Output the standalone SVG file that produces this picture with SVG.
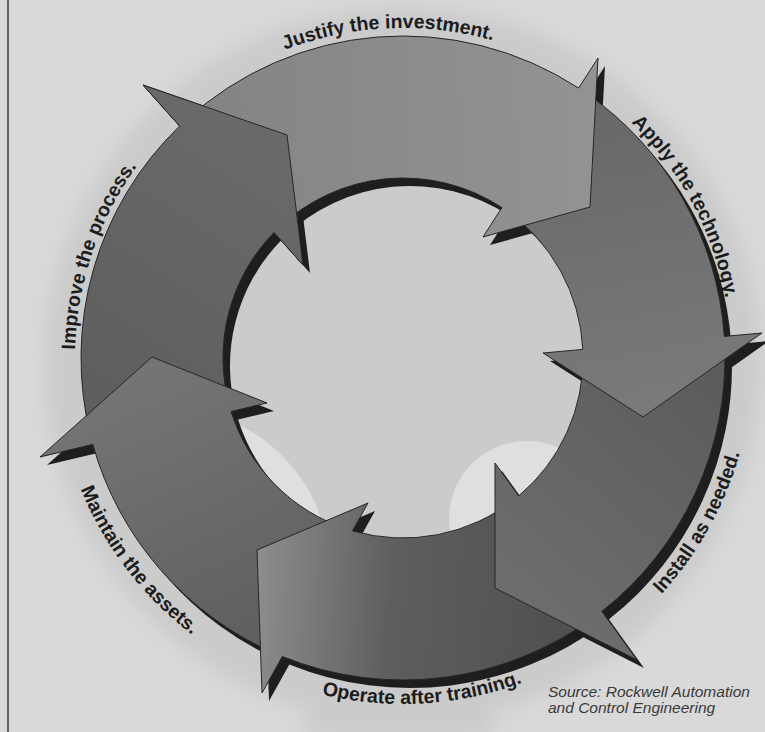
<svg xmlns="http://www.w3.org/2000/svg" width="765" height="732" viewBox="0 0 765 732">
<style>
.edge{stroke:#262626;stroke-width:1;stroke-linejoin:miter}
.shadow{fill:#1e1e1e}
.lbl{font-family:"Liberation Sans",Arial,sans-serif;font-weight:bold;font-size:19.5px;fill:#1c1c1c}
.src{font-family:"Liberation Sans",Arial,sans-serif;font-style:italic;font-size:15.5px;fill:#3a3a3a}
</style>
<defs>
<filter id="soft" x="-20%" y="-20%" width="140%" height="140%"><feGaussianBlur stdDeviation="10"/></filter>
<clipPath id="hole"><circle cx="403" cy="358" r="181"/></clipPath>
<linearGradient id="gJ" gradientUnits="userSpaceOnUse" x1="186" y1="160" x2="595" y2="150"><stop offset="0" stop-color="#838383"/><stop offset="1" stop-color="#939393"/></linearGradient>
<linearGradient id="gA" gradientUnits="userSpaceOnUse" x1="590" y1="100" x2="650" y2="410"><stop offset="0" stop-color="#676767"/><stop offset="1" stop-color="#7a7a7a"/></linearGradient>
<linearGradient id="gI" gradientUnits="userSpaceOnUse" x1="725" y1="345" x2="500" y2="600"><stop offset="0" stop-color="#5a5a5a"/><stop offset="1" stop-color="#6e6e6e"/></linearGradient>
<linearGradient id="gO" gradientUnits="userSpaceOnUse" x1="590" y1="620" x2="258" y2="600"><stop offset="0" stop-color="#4e4e4e"/><stop offset="0.6" stop-color="#5e5e5e"/><stop offset="1" stop-color="#8c8c8c"/></linearGradient>
<linearGradient id="gM" gradientUnits="userSpaceOnUse" x1="275" y1="650" x2="150" y2="380"><stop offset="0" stop-color="#5e5e5e"/><stop offset="1" stop-color="#747474"/></linearGradient>
<linearGradient id="gP" gradientUnits="userSpaceOnUse" x1="90" y1="436" x2="287" y2="135"><stop offset="0" stop-color="#5d5d5d"/><stop offset="1" stop-color="#6a6a6a"/></linearGradient>
<path id="pJ" d="M140.8,157.6 A330,330 0 0 1 645.9,134.6"/>
<path id="pA" d="M470.1,36.9 A328,328 0 0 1 707.5,479.8"/>
<path id="pP" d="M123.1,528.9 A328,328 0 0 1 283.3,52.6"/>
<path id="pI" d="M469.2,701.7 A350,350 0 0 0 730.0,233.1"/>
<path id="pO" d="M151.3,595.4 A346,346 0 0 0 680.4,564.8"/>
<path id="pM" d="M63.4,282.1 A348,348 0 0 0 387.2,705.6"/>
</defs>

<g id="background">
<rect x="0" y="0" width="765" height="732" fill="#d9d9d9"/>
<g filter="url(#soft)" fill="#cbcbcb">
<circle cx="403" cy="365" r="358"/>
<polygon points="318,660 488,660 494,740 303,740"/>
</g>
<g clip-path="url(#hole)" fill="#dfdfdf">
<ellipse cx="255.4" cy="485.7" rx="85" ry="40" transform="rotate(46 255.4 485.7)"/>
<circle cx="527" cy="519" r="78"/>
</g>
<line x1="8" y1="0" x2="8" y2="732" stroke="#3a3a3a" stroke-width="1.5"/>
</g>

<g id="shadows" transform="translate(7,8)">
<path class="shadow" d="M185.9,120.2 A322,322 0 0 1 578.6,88.1 L598,58 L590,207 L483,237 L501.9,207.6 A180,180 0 0 0 277.3,229.2 Z"/>
<path class="shadow" d="M585.6,92.8 A322,322 0 0 1 724.3,336.4 L762,333 L643,417 L543,353 L582.8,349.4 A180,180 0 0 0 505.8,210.2 Z"/>
<path class="shadow" d="M724.7,344.8 A322,322 0 0 1 601.9,611.3 L637,660 L495,588 L495,463 L518.7,495.9 A180,180 0 0 0 583.0,354.1 Z"/>
<path class="shadow" d="M595.2,616.4 A322,322 0 0 1 282.3,656.5 L262,693 L257,550 L368,503 L352.5,530.8 A180,180 0 0 0 515.1,498.9 Z"/>
<path class="shadow" d="M274.6,653.3 A322,322 0 0 1 92.8,444.4 L40,457 L152,357 L267,403 L231.1,411.5 A180,180 0 0 0 348.0,529.4 Z"/>
<path class="shadow" d="M90.7,436.4 A322,322 0 0 1 179.6,126.1 L143,85 L287,135 L303,265 L274.0,232.4 A180,180 0 0 0 229.8,407.0 Z"/>
</g>

<g id="cycle">
<g id="improve">
<path class="edge" fill="url(#gP)" d="M90.7,436.4 A322,322 0 0 1 179.6,126.1 L143,85 L287,135 L303,265 L274.0,232.4 A180,180 0 0 0 229.8,407.0 Z"/>
</g>
<g id="maintain">
<path class="edge" fill="url(#gM)" d="M274.6,653.3 A322,322 0 0 1 92.8,444.4 L40,457 L152,357 L267,403 L231.1,411.5 A180,180 0 0 0 348.0,529.4 Z"/>
</g>
<g id="operate">
<path class="edge" fill="url(#gO)" d="M595.2,616.4 A322,322 0 0 1 282.3,656.5 L262,693 L257,550 L368,503 L352.5,530.8 A180,180 0 0 0 515.1,498.9 Z"/>
</g>
<g id="install">
<path class="edge" fill="url(#gI)" d="M724.7,344.8 A322,322 0 0 1 601.9,611.3 L637,660 L495,588 L495,463 L518.7,495.9 A180,180 0 0 0 583.0,354.1 Z"/>
</g>
<g id="apply">
<path class="edge" fill="url(#gA)" d="M585.6,92.8 A322,322 0 0 1 724.3,336.4 L762,333 L643,417 L543,353 L582.8,349.4 A180,180 0 0 0 505.8,210.2 Z"/>
</g>
<g id="justify">
<path class="edge" fill="url(#gJ)" d="M185.9,120.2 A322,322 0 0 1 578.6,88.1 L598,58 L590,207 L483,237 L501.9,207.6 A180,180 0 0 0 277.3,229.2 Z"/>
</g>
<g id="improve-head">
<path fill="url(#gP)" d="M179.6,126.1 L143,85 L287,135 L303,265 L274.0,232.4 Z"/>
<path class="edge" fill="none" d="M179.6,126.1 L143,85 L287,135 L303,265 L274.0,232.4"/>
</g>
</g>

<g id="labels">
<text class="lbl"><textPath href="#pJ" startOffset="50%" text-anchor="middle">Justify the investment.</textPath></text>
<text class="lbl"><textPath href="#pA" startOffset="50%" text-anchor="middle">Apply the technology.</textPath></text>
<text class="lbl"><textPath href="#pI" startOffset="50%" text-anchor="middle">Install as needed.</textPath></text>
<text class="lbl"><textPath href="#pO" startOffset="50%" text-anchor="middle">Operate after training.</textPath></text>
<text class="lbl"><textPath href="#pM" startOffset="50%" text-anchor="middle">Maintain the assets.</textPath></text>
<text class="lbl"><textPath href="#pP" startOffset="50%" text-anchor="middle">Improve the process.</textPath></text>
<text class="src" x="548" y="697">Source: Rockwell Automation</text>
<text class="src" x="548" y="713">and Control Engineering</text>
</g>
</svg>
